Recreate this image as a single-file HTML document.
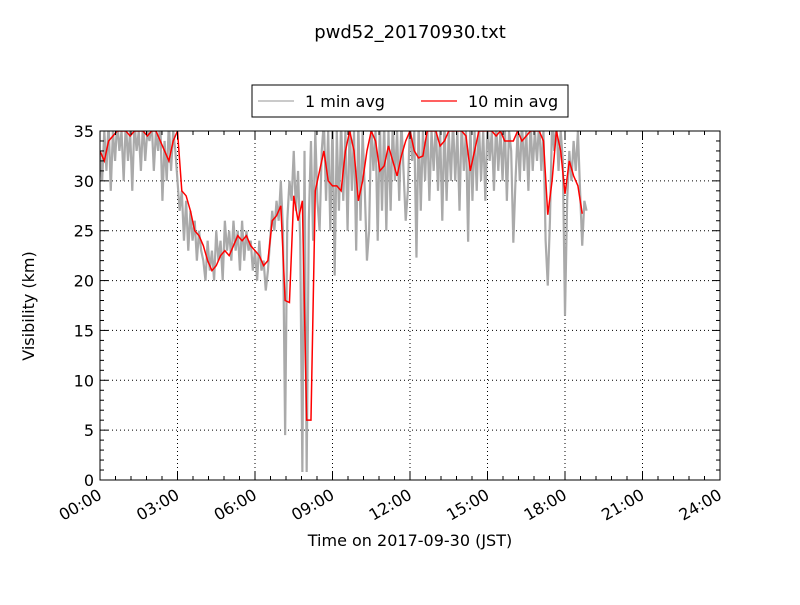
<!DOCTYPE html>
<html><head><meta charset="utf-8"><style>
body{margin:0;background:#fff;font-family:"Liberation Sans","DejaVu Sans",sans-serif}
</style></head><body>
<svg id="chart" width="800" height="600" font-family="DejaVu Sans, Liberation Sans, sans-serif">
<rect width="800" height="600" fill="#fff"/>
<text x="410" y="38" font-size="18" text-anchor="middle">pwd52_20170930.txt</text>
<defs><clipPath id="pc"><rect x="100" y="131" width="620" height="349"/></clipPath></defs>
<g id="grid"></g>
<g id="series" clip-path="url(#pc)"></g>
<rect x="100" y="131" width="620" height="349" fill="none" stroke="#000" stroke-width="1"/>
<g id="axes"></g>
<text x="410" y="546" font-size="16" text-anchor="middle">Time on 2017-09-30 (JST)</text>
<text transform="translate(34,306) rotate(-90)" font-size="16" text-anchor="middle">Visibility (km)</text>
<g>
<rect x="252" y="85" width="316" height="32" fill="#fff" stroke="#000"/>
<g><line x1="258" y1="101" x2="294" y2="101" stroke="#aaa" stroke-width="1.2"/><text x="305" y="107" font-size="16">1 min avg</text></g>
<g><line x1="421" y1="101" x2="457" y2="101" stroke="red" stroke-width="1.2"/><text x="468" y="107" font-size="16">10 min avg</text></g>
</g>
</svg>
<script>
const grayValues=[
33,30,35,31,36,29,35,32,36,33,35,30,
36,32,35,29,36,33,35,31,36,32,35,34,
36,31,35,33,36,28,34,30,36,31,35,33,
30,27,29,24,28,23,27,24,26,22,25,23,
22,20,24,21,23,20,25,22,24,20,26,23,
25,22,26,23,25,21,26,22,25,23,24,21,
23,20,24,21,22,19,21,24,27,25,28,26,
30,25,4.5,26,30,28,33,27,31,24,0.8,33,
0.8,26,34,24,35,28,25,33,36,28,35,25,
36,20.5,35,27,36,28,35,25,36,29,35,23,
36,26,35,29,22,25,36,31,35,24,36,27,
36,25,35,27,36,30,35,28,36,31,26,29,
36,32,35,22.3,36,27,35,30,36,28,35,31,
36,29,35,26,36,28,35,30,36,30,35,27,
36,31,35,23.9,36,28,35,29,36,30,35,28,
36,32,35,29,36,31,35,30,36,28,35,33,
23.8,30,35,30,36,31,35,29,36,31,35,32,
36,31,35,24,19.5,26,36,33,36,31,35,32,
16.5,28,33,30,34,31,35,29,23.5,28,27];
const redValues=[
33,32,34,34.5,35,35,
35,34.5,35,35,35,34.5,
35,35,34,33,32,34,
35,29,28.5,27,25,24.5,
23.5,22,21,21.5,22.5,23,
22.5,23.5,24.5,24,24.5,23.5,
23,22.5,21.5,22,26,26.5,
27.5,18,17.8,28.5,26,28,
6,6,29,31,33,30,
29.5,29.5,29,33,35,33,
28,30,33,35,34,31,
31.5,33.5,32,30.5,32.5,34,
35,33,32.3,32.5,35,35,
35,33.5,34,35,35,35,
35,34.5,31,33,35,35,
35,35,34.5,35,34,34,
34,35,34,34.5,35,35,
35,34,26.6,30,35,33,
28.7,32,30.5,29.5,26.7];
const xTickLabels=["00:00","03:00","06:00","09:00","12:00","15:00","18:00","21:00","24:00"];
const yTickLabels=[0,5,10,15,20,25,30,35];
const X0=100,X1=720,Y0=480,Y1=131;
const xs=h=>X0+h/24*(X1-X0);
const ys=v=>Y0-v/35*(Y0-Y1);
const NS="http://www.w3.org/2000/svg";
function mk(t,a,p){const e=document.createElementNS(NS,t);for(const k in a)e.setAttribute(k,a[k]);p.appendChild(e);return e;}
const grid=document.getElementById('grid'),axes=document.getElementById('axes'),series=document.getElementById('series');
xTickLabels.forEach((l,i)=>{const x=xs(i*3);
 if(i>0&&i<8){const g=mk('line',{x1:x,y1:Y1,x2:x,y2:Y0,stroke:'#000','stroke-dasharray':'1,3','stroke-width':1},grid);
 
 }
 mk('line',{x1:x,y1:Y0,x2:x,y2:Y0-8,stroke:'#000'},axes);mk('line',{x1:x,y1:Y1,x2:x,y2:Y1+8,stroke:'#000'},axes);
 for(let m=1;m<5&&i<8;m++){const xm=xs(i*3+m*0.6);mk('line',{x1:xm,y1:Y0,x2:xm,y2:Y0-4,stroke:'#000'},axes);mk('line',{x1:xm,y1:Y1,x2:xm,y2:Y1+4,stroke:'#000'},axes);}
 const t=mk('text',{x:x+3,y:Y0+18,'font-size':16,'text-anchor':'end',transform:`rotate(-30 ${x+3} ${Y0+18})`},axes);t.textContent=l;
 
 
});
yTickLabels.forEach(v=>{const y=ys(v);
 if(v>0&&v<35){const g=mk('line',{x1:X0,y1:y,x2:X1,y2:y,stroke:'#000','stroke-dasharray':'1,3','stroke-width':1},grid);
 
 }
 mk('line',{x1:X0,y1:y,x2:X0+8,y2:y,stroke:'#000'},axes);mk('line',{x1:X1,y1:y,x2:X1-8,y2:y,stroke:'#000'},axes);
 const t=mk('text',{x:X0-6,y:y+6,'font-size':16,'text-anchor':'end'},axes);t.textContent=v;
 
 
});
for(let v=1;v<35;v++){if(v%5===0)continue;const y=ys(v);mk('line',{x1:X0,y1:y,x2:X0+4,y2:y,stroke:'#000'},axes);mk('line',{x1:X1,y1:y,x2:X1-4,y2:y,stroke:'#000'},axes);}
const gp=mk('polyline',{points:grayValues.map((v,i)=>xs(i*5/60)+','+ys(v)).join(' '),fill:'none',stroke:'#aaa','stroke-width':2.2},series);


const rp=mk('polyline',{points:redValues.map((v,i)=>xs(i*10/60)+','+ys(v)).join(' '),fill:'none',stroke:'red','stroke-width':1.5},series);


</script>
</body></html>
